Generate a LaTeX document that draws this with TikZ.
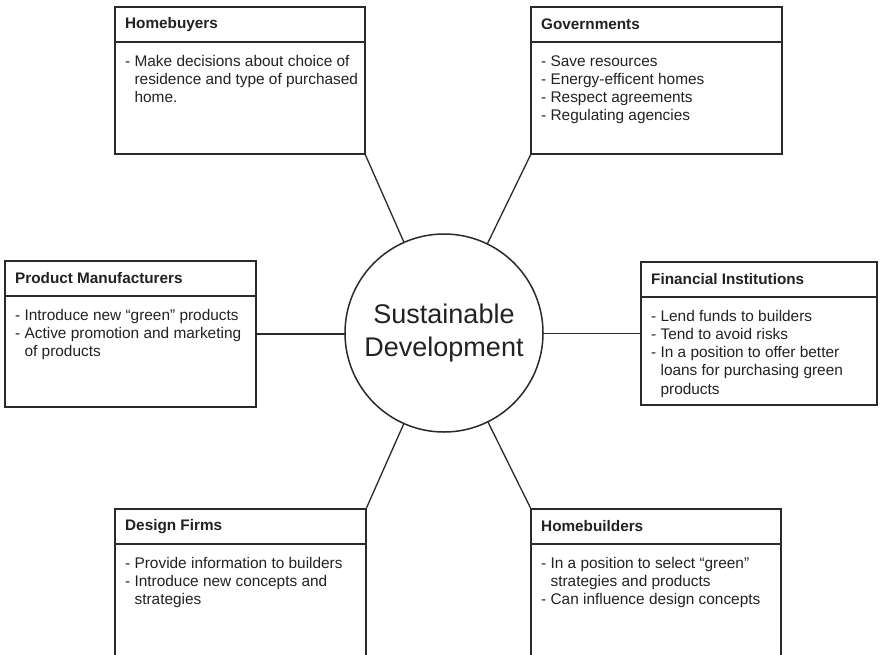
\documentclass[tikz,border=0pt]{standalone}
\usepackage{fontspec}
\setmainfont{Liberation Sans}
\definecolor{ink}{HTML}{222222}
\definecolor{edge}{HTML}{2A2A2A}
\tikzset{
  box/.style={draw=edge, line width=1.7pt, rectangle, inner sep=0pt, outer sep=0pt},
  sepline/.style={draw=edge, line width=1.2pt},
  conn/.style={draw=edge, line width=1.3pt},
  boxtitle/.style={inner sep=0pt, text=ink, font=\fontsize{15.3}{18.3}\selectfont\bfseries},
  boxbody/.style={inner sep=0pt, text=ink, font=\fontsize{15.4}{18.3}\selectfont},
}
\newcommand\SDbox[7]{%
  \node[box, minimum width=#4pt, minimum height=#5pt, anchor=north west] (#1) at (#2,#3) {};
  \draw[sepline] ([yshift=-35pt]#1.north west) -- ([yshift=-35pt]#1.north east);
  \node[boxtitle, anchor=west] (#1-t) at ([xshift=10pt,yshift=-17.5pt]#1.north west) {#6};
  \node[boxbody, anchor=base west] (#1-b) at ([xshift=10pt,yshift=-59pt]#1.north west)
    {\begin{tabular}[t]{@{}l@{}}#7\end{tabular}};
}
\newcommand\hg{\phantom{- }}
\begin{document}
\begin{tikzpicture}[x=1pt,y=-1pt]
\useasboundingbox (0,0) rectangle (880,654);
\fill[white] (0,0) rectangle (880,654);
\clip (0,0) rectangle (880,654);

\node[circle, draw=edge, line width=1.5pt, minimum size=198pt, inner sep=0pt, outer sep=0pt,
      align=center, text=ink, font=\fontsize{27}{33}\selectfont] (sd) at (444,333)
      {Sustainable\\Development};

\SDbox{hb}{115}{7}{250}{147}{Homebuyers}
  {- Make decisions about choice of\\ \hg residence and type of purchased\\ \hg home.}
\SDbox{gv}{531}{7}{251}{147}{Governments}
  {- Save resources\\ - Energy-efficent homes\\ - Respect agreements\\ - Regulating agencies}
\SDbox{pm}{5}{261}{251}{146}{Product Manufacturers}
  {- Introduce new “green” products\\ - Active promotion and marketing\\ \hg of products}
\SDbox{fi}{641}{262}{236}{143}{Financial Institutions}
  {- Lend funds to builders\\ - Tend to avoid risks\\ - In a position to offer better\\ \hg loans for purchasing green\\ \hg products}
\SDbox{df}{115}{509}{251}{170}{Design Firms}
  {- Provide information to builders\\ - Introduce new concepts and\\ \hg strategies}
\SDbox{hd}{531}{509}{250}{170}{Homebuilders}
  {- In a position to select “green”\\ \hg strategies and products\\ - Can influence design concepts}

\draw[conn] (hb.south east) -- (sd);
\draw[conn] (gv.south west) -- (sd);
\draw[conn] (df.north east) -- (sd);
\draw[conn] (hd.north west) -- (sd);
\draw[conn] (pm.east) -- (pm.east -| sd.west);
\draw[conn] (fi.west) -- (fi.west -| sd.east);
\end{tikzpicture}
\end{document}
